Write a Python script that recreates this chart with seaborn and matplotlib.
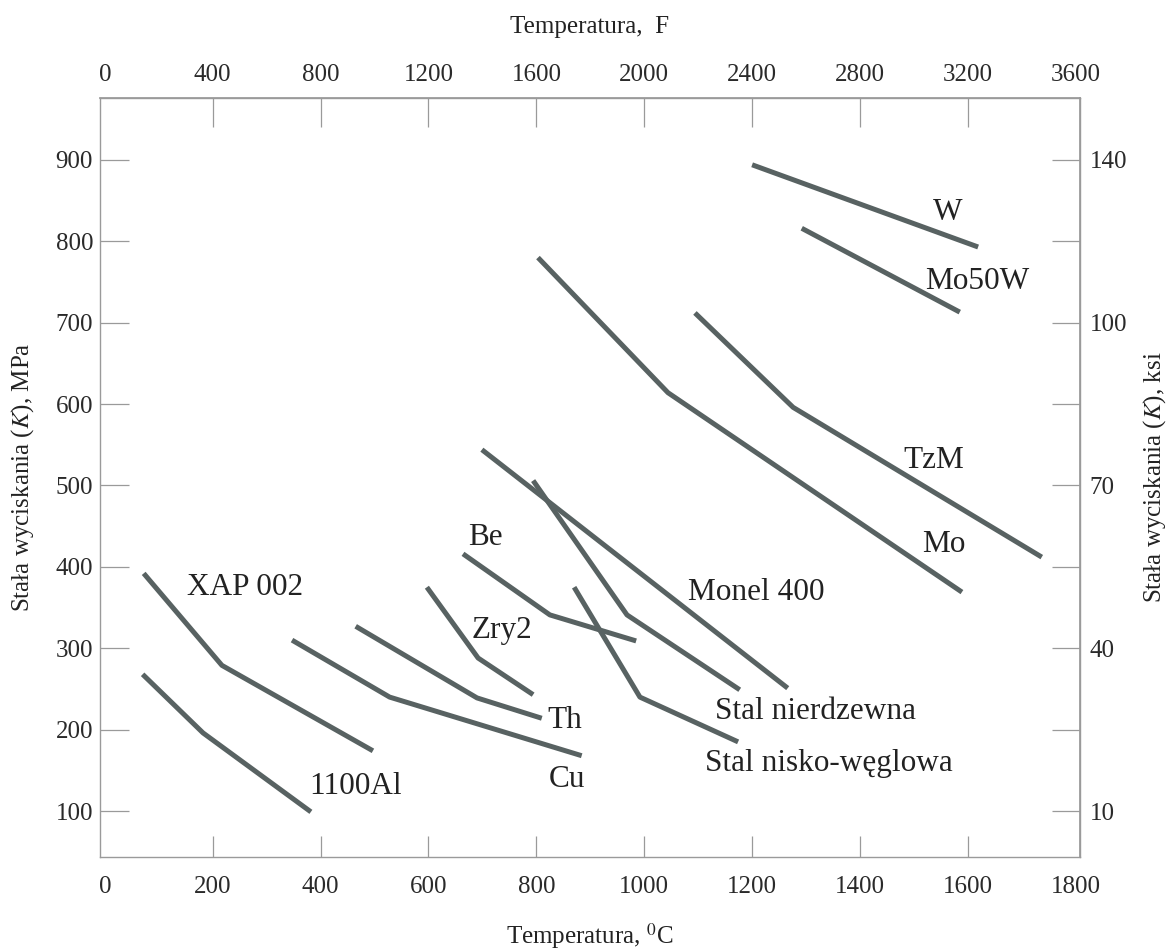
import pandas as pd
import matplotlib
matplotlib.use("Agg")
import matplotlib.pyplot as plt
import seaborn as sns

# --- dane (T w °C, K w MPa) ---
MATERIALS = ["W", "Mo50W", "TzM", "Mo", "Monel 400", "Stal nierdzewna",
             "Stal nisko-węglowa", "Be", "Zry2", "Th", "Cu", "XAP 002", "1100Al"]

T_W = [1200, 1619]
K_W = [894, 793]
T_MO50W = [1292, 1585]
K_MO50W = [816, 713]
T_TZM = [1094, 1276, 1737]
K_TZM = [712, 596, 412]
T_MO = [803, 1044, 1589]
K_MO = [780, 614, 369]
T_MONEL = [699, 1266]
K_MONEL = [544, 251]
T_NIERDZ = [794, 968, 1177]
K_NIERDZ = [506, 341, 249]
T_NISKO = [870, 992, 1174]
K_NISKO = [375, 240, 185]
T_BE = [664, 825, 985]
K_BE = [416, 341, 309]
T_ZRY2 = [597, 692, 794]
K_ZRY2 = [375, 288, 243]
T_TH = [465, 690, 810]
K_TH = [327, 239, 214]
T_CU = [347, 528, 884]
K_CU = [310, 240, 168]
T_XAP = [72, 217, 497]
K_XAP = [392, 279, 174]
T_AL = [70, 182, 382]
K_AL = [268, 196, 99]

SERIES_T = [T_W, T_MO50W, T_TZM, T_MO, T_MONEL, T_NIERDZ, T_NISKO,
            T_BE, T_ZRY2, T_TH, T_CU, T_XAP, T_AL]
SERIES_K = [K_W, K_MO50W, K_TZM, K_MO, K_MONEL, K_NIERDZ, K_NISKO,
            K_BE, K_ZRY2, K_TH, K_CU, K_XAP, K_AL]

# pozycje podpisów (lewy brzeg, linia bazowa)
LABEL_T = [1535, 1520, 1480, 1515, 1081, 1131, 1113, 673, 679, 821, 823, 152, 378]
LABEL_K = [826, 741, 521, 418, 359, 213, 149, 427, 313, 202, 129, 365, 121]

C_TICKS = [200, 400, 600, 800, 1000, 1200, 1400, 1600]
C_EDGE = [0, 1800]
F_TICKS = [400, 800, 1200, 1600, 2000, 2400, 2800, 3200]
F_EDGE = [0, 3600]
MPA_TICKS = [100, 200, 300, 400, 500, 600, 700, 800, 900]
KSI_LABELS = ["10", "", "40", "", "70", "", "100", "", "140"]

LINE_COLOR = "#586262"
FRAME_COLOR = "#9a9a9a"

records = []
for name, ts, ks in zip(MATERIALS, SERIES_T, SERIES_K):
    for t, k in zip(ts, ks):
        records.append({"Material": name, "T": t, "K": k})
df = pd.DataFrame(records)

sns.set_theme(style="white")
plt.rcParams["font.family"] = ["Liberation Serif", "DejaVu Serif"]
plt.rcParams["mathtext.fontset"] = "stix"

fig = plt.figure(figsize=(11.67, 9.51), dpi=100)
ax = fig.add_axes([0.0857, 0.0988, 0.8398, 0.7981])

sns.lineplot(data=df, x="T", y="K", units="Material", estimator=None,
             sort=False, color=LINE_COLOR, linewidth=3.6, ax=ax,
             legend=False, solid_capstyle="butt")

for name, lt, lk in zip(MATERIALS, LABEL_T, LABEL_K):
    ax.text(lt, lk, name, ha="left", va="baseline", fontsize=22.5, color="#222222")

ax.set_xlim(-9, 1808)
ax.set_ylim(43.5, 976)

for s in ax.spines.values():
    s.set_color(FRAME_COLOR)
    s.set_linewidth(1.0)

tick_kw = dict(direction="in", width=0.9, color=FRAME_COLOR,
               labelsize=18, labelcolor="#2a2a2a")

# wartości skrajne (0 i 1800) mają tylko podpis, bez kreski
ax.set_xticks(C_TICKS)
ax.set_xticks(C_EDGE, labels=[str(v) for v in C_EDGE], minor=True)
ax.set_yticks(MPA_TICKS)
ax.tick_params(axis="x", which="major", length=15, pad=14, bottom=True, **tick_kw)
ax.tick_params(axis="x", which="minor", length=0, pad=14, bottom=True, **tick_kw)
ax.tick_params(axis="y", length=21, pad=5, left=True, **tick_kw)

ax.set_xlabel("Temperatura, $^{0}$C", fontsize=18, color="#222222", labelpad=16)
ax.set_ylabel("Stała wyciskania ($K$), MPa", fontsize=18, color="#222222", labelpad=14)

# górna oś w stopniach F
top = ax.secondary_xaxis("top", functions=(lambda x: 2 * x, lambda x: x / 2))
top.set_xticks(F_TICKS)
top.set_xticks(F_EDGE, labels=[str(v) for v in F_EDGE], minor=True)
top.tick_params(which="major", length=21, pad=9, **tick_kw)
top.tick_params(which="minor", length=0, pad=9, **tick_kw)
top.spines["top"].set_color(FRAME_COLOR)
top.set_xlabel("Temperatura,  F", fontsize=18, color="#222222", labelpad=22)

# prawa oś w ksi
right = ax.secondary_yaxis("right")
right.set_yticks(MPA_TICKS)
right.set_yticklabels(KSI_LABELS)
right.tick_params(length=20, pad=7, **tick_kw)
right.spines["right"].set_color(FRAME_COLOR)
right.set_ylabel("Stała wyciskania ($K$), ksi", fontsize=18, color="#222222", labelpad=10)

ax.grid(False)
fig.savefig("out.png", dpi=100)
plt.close(fig)
